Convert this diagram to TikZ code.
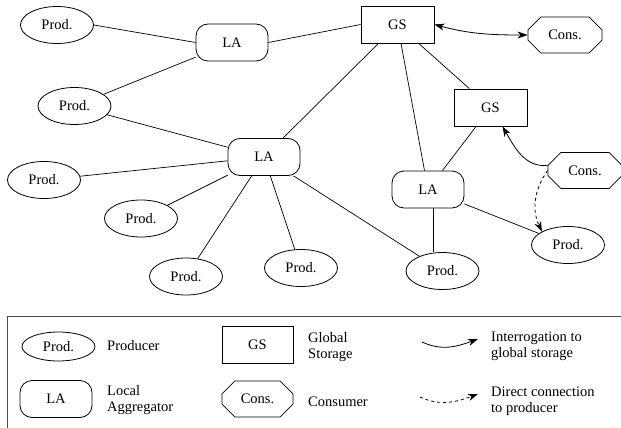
\documentclass[tikz,border=0pt]{standalone}
\usepackage{fontspec}
\setmainfont{Liberation Serif}
\usepackage{tikz}
\usetikzlibrary{shapes.geometric, shapes.misc, arrows.meta, calc}
\tikzset{
    every node/.style={font=\fontsize{14.5}{16}\selectfont},
    prod/.style={ellipse, draw, line width=0.8pt, minimum width=73, minimum height=37, inner sep=0pt},
    agg/.style={rectangle, rounded corners=12, draw, line width=0.8pt, minimum width=72, minimum height=37, inner sep=0pt},
    gstore/.style={rectangle, draw, line width=0.8pt, minimum width=73, minimum height=37, inner sep=0pt},
    cons/.style={chamfered rectangle, chamfered rectangle xsep=8pt, chamfered rectangle ysep=8pt, draw, line width=0.8pt, minimum width=74, minimum height=36, inner sep=0pt},
    legtext/.style={anchor=west, align=left, inner sep=0pt},
    link/.style={line width=0.7pt},
    query/.style={line width=0.8pt, -{Stealth[length=10pt, width=7pt, inset=3pt]}},
}
\begin{document}
\begin{tikzpicture}[x=1pt, y=-1pt]
        \useasboundingbox (0,0) rectangle (621,428);
        % network
        \node (prodA) [prod] at (57, 25) {Prod.};
        \node (prodB) [prod] at (74.5, 106) {Prod.};
        \node (prodC) [prod] at (44, 180) {Prod.};
        \node (prodD) [prod] at (141, 218.5) {Prod.};
        \node (prodE) [prod] at (186, 276.5) {Prod.};
        \node (prodF) [prod] at (301, 268) {Prod.};
        \node (prodG) [prod] at (442.5, 271) {Prod.};
        \node (prodH) [prod] at (568, 245) {Prod.};
        \node (aggA) [agg] at (232, 42.5) {LA};
        \node (aggB) [agg] at (264, 157) {LA};
        \node (aggC) [agg] at (428, 189.5) {LA};
        \node (gsA) [gstore] at (397.5, 24.5) {GS};
        \node (gsB) [gstore] at (490.5, 107.5) {GS};
        \node (consA) [cons] at (565, 35) {Cons.};
        \node (consB) [cons] at (585, 170.5) {Cons.};

        \draw[link] (prodA.east) -- (aggA.west);
        \draw[link] (aggA) -- (prodB);
        \draw[link] (aggA.east) -- (gsA.west);
        \draw[link] (prodB) -- (aggB);
        \draw[link] (aggB) -- (gsA);
        \draw[link] (aggB) -- (prodC);
        \draw[link] (aggB) -- (prodD);
        \draw[link] (aggB) -- (prodE);
        \draw[link] (aggB) -- (prodF);
        \draw[link] (aggB) -- (prodG);
        \draw[link] (gsA) -- (aggC);
        \draw[link] (gsA) -- (gsB);
        \draw[link] (gsB) -- (aggC);
        \draw[link] ([xshift=5]aggC.south) -- ([xshift=-9.5]prodG.north);
        \draw[link] (aggC) -- (prodH);

        \draw[query, {Stealth[length=10pt, width=7pt, inset=3pt]}-{Stealth[length=10pt, width=7pt, inset=3pt]}] (gsA.east) to[out=-15, in=180] (consA.west);
        \draw[query] ([yshift=5]consB.west) to[out=185, in=-60] ([xshift=12]gsB.south);
        \draw[query, dashed] (consB.west) to[out=235, in=115] (prodH.north west);

        % legend
        \draw[line width=1pt, draw=black!70] (7,316) rectangle (623,430);
        \node (legProd) [prod, minimum height=29] at (58.5, 346.5) {Prod.};
        \node (legAgg) [agg] at (56, 399) {LA};
        \node (legGs) [gstore, minimum width=71] at (257.5, 345) {GS};
        \node (legCons) [cons, minimum width=71] at (257.5, 399) {Cons.};
        \node (txtProd) [legtext] at (107, 346) {Producer};
        \node (txtAgg) [legtext] at (107, 400.5) {Local\\Aggregator};
        \node (txtGs) [legtext] at (308, 347) {Global\\Storage};
        \node (txtCons) [legtext] at (308, 402) {Consumer};
        \coordinate (qStart) at (422, 342);
        \coordinate (qEnd) at (478, 339);
        \coordinate (dStart) at (420, 397);
        \coordinate (dEnd) at (478, 394);
        \draw[query] (qStart) to[out=-25, in=200] (qEnd);
        \draw[query, dashed] (dStart) to[out=-25, in=200] (dEnd);
        \node (txtQuery) [legtext] at (491, 346.5) {Interrogation to\\global storage};
        \node (txtDirect) [legtext] at (491, 401) {Direct connection\\to producer};
\end{tikzpicture}
\end{document}
